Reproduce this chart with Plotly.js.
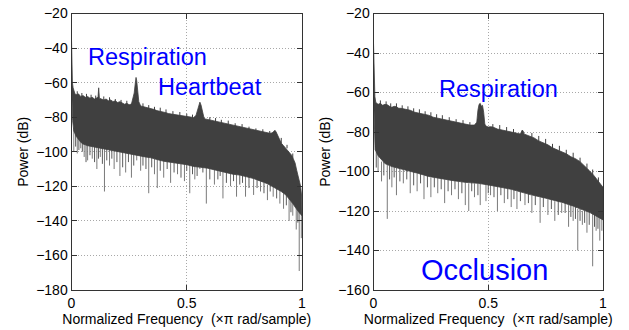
<!DOCTYPE html>
<html>
<head>
<meta charset="utf-8">
<script src="https://cdn.plot.ly/plotly-3.0.1.min.js"></script>
<style>html,body{margin:0;padding:0;background:#fff;}#chart{width:629px;height:330px;}</style>
</head>
<body>
<div id="chart"></div>
<script>
// ---------- Left panel (normal) ----------
var leftUpperF = [0,0.002,0.004,0.007,0.01,0.015,0.02,0.03,0.04,0.05,0.06,0.07,0.08,0.09,0.1,0.11,0.115,0.118,0.121,0.13,0.14,0.15,0.16,0.17,0.18,0.19,0.2,0.21,0.22,0.23,0.24,0.25,0.26,0.265,0.272,0.277,0.28,0.283,0.287,0.292,0.3,0.31,0.32,0.33,0.34,0.35,0.36,0.37,0.38,0.39,0.4,0.41,0.42,0.43,0.44,0.45,0.46,0.47,0.48,0.49,0.5,0.51,0.52,0.53,0.54,0.547,0.552,0.557,0.562,0.568,0.575,0.58,0.59,0.6,0.61,0.62,0.63,0.64,0.65,0.66,0.67,0.68,0.69,0.7,0.71,0.72,0.73,0.74,0.75,0.76,0.77,0.78,0.79,0.8,0.81,0.82,0.83,0.84,0.85,0.86,0.87,0.878,0.883,0.888,0.895,0.904,0.91,0.92,0.93,0.94,0.948,0.955,0.962,0.97,0.977,0.983,0.988,0.994,0.998,1];
var leftUpper = [-35,-52,-60,-63,-65,-66.5,-67,-66.5,-68,-67.5,-68.5,-68,-69,-68.5,-69.5,-69,-68.5,-63,-69,-69.5,-70,-69.5,-70.5,-70,-71,-70.5,-71.5,-71,-72,-72.5,-72,-72.8,-72.4,-70,-66,-60,-57,-59,-64,-71,-73.5,-73.8,-74.2,-74.6,-74.8,-75.4,-75.6,-76.2,-76.4,-76.6,-77.2,-77.4,-77.9,-78.1,-78.3,-78.6,-78.4,-78.9,-79.1,-79.3,-79.5,-79.8,-80,-80.2,-79,-76,-73,-71.3,-73,-77,-80.5,-81,-81.3,-81.8,-82.1,-82.4,-82.9,-83.1,-83.4,-83.8,-84,-84.3,-84.6,-84.9,-85.2,-85.4,-85.6,-85.9,-86.2,-86.5,-86.7,-87,-87.2,-87.5,-87.8,-88.1,-88.4,-88.7,-89,-89.3,-89.1,-88,-87.6,-88.6,-91,-93.4,-95,-96.5,-98,-99.5,-100.5,-102,-104,-106.5,-110.7,-114,-117,-120,-125,-130];
var leftLowerF = [0,0.005,0.01,0.02,0.03,0.04,0.05,0.06,0.07,0.08,0.1,0.12,0.14,0.16,0.18,0.2,0.22,0.24,0.26,0.28,0.3,0.32,0.345,0.37,0.4,0.42,0.45,0.474,0.5,0.53,0.56,0.59,0.614,0.64,0.67,0.7,0.73,0.76,0.79,0.82,0.85,0.87,0.89,0.91,0.93,0.948,0.96,0.97,0.98,0.99,1];
var leftLower = [-60,-82,-88,-91,-93,-94.5,-95.5,-96,-96.5,-97,-97.5,-98,-98.5,-99,-99.5,-100,-100.5,-101,-101.5,-102,-102.5,-103,-103.5,-104.5,-105.5,-106,-106.5,-107,-107.5,-108.5,-109,-109.5,-110.5,-111,-112,-113,-113.5,-114.5,-115.5,-117,-118.5,-120,-121.5,-123,-125,-128,-130,-132,-134,-135.6,-137];
var leftSpikeF    = [0.01,0.025,0.04,0.055,0.07,0.09,0.11,0.125,0.143,0.165,0.185,0.21,0.235,0.26,0.283,0.3,0.335,0.36,0.372,0.4,0.43,0.46,0.49,0.513,0.535,0.557,0.585,0.62,0.657,0.69,0.716,0.755,0.79,0.82,0.85,0.875,0.904,0.92,0.944,0.96,0.975,0.988,0.997];
var leftSpikeBase = [-86,-90,-93,-94,-95,-96,-97,-97,-98,-98,-99,-99,-100,-101,-85,-102,-103,-104,-104,-105,-106,-106,-107,-107,-108,-96,-109,-110,-111,-112,-113,-114,-115,-117,-119,-120,-122,-124,-127,-129,-132,-134,-136];
var leftSpikeTip  = [-100,-101,-98,-103,-105,-104,-110,-103,-123,-108,-110,-114,-112,-115,-105,-111,-124,-113,-121,-115,-118,-113,-117,-124,-116,-110,-130,-119,-127,-120,-126,-126,-125,-123,-128,-126,-130,-133,-140,-137,-145,-169,-150];
var leftMinorF    = [0.018,0.032,0.047,0.063,0.08,0.1,0.117,0.134,0.153,0.175,0.197,0.222,0.247,0.27,0.31,0.323,0.348,0.385,0.415,0.445,0.475,0.5,0.525,0.545,0.57,0.6,0.635,0.645,0.672,0.703,0.73,0.742,0.77,0.805,0.835,0.862,0.89,0.932,0.952,0.982];
var leftMinorBase = [-89,-91,-93,-94,-95,-96,-97,-97,-98,-98,-99,-100,-100,-101,-102,-103,-103,-104,-105,-106,-106,-107,-107,-108,-108,-109,-110,-110,-111,-112,-113,-113,-114,-116,-118,-119,-121,-125,-128,-133];
var leftMinorTip  = [-97,-99,-100,-106,-102,-106,-104,-107,-105,-104,-106,-109,-106,-108,-108,-110,-109,-111,-110,-112,-115,-111,-113,-114,-112,-116,-116,-114,-118,-117,-119,-118,-121,-121,-124,-123,-127,-131,-135,-141];
var leftHairF    = [0.025,0.045,0.065,0.085,0.105,0.14,0.165,0.19,0.215,0.24,0.31,0.335,0.36,0.385,0.41,0.44,0.47,0.5,0.525,0.6,0.625,0.65,0.68,0.71,0.74,0.77,0.8,0.83,0.86,0.91,0.935,0.96];
var leftHairBase = [-68,-69,-69.5,-70,-70.5,-71,-71.5,-72,-72.5,-73,-75,-75.5,-76.5,-77,-78,-79,-79.5,-80.5,-81,-82.5,-83,-84,-85,-86,-87,-88,-89,-90,-90.5,-95,-98,-104];
var leftHairTip  = [-65,-66,-66.5,-67,-67.5,-68,-68.5,-69.5,-70,-70.5,-72,-73,-74,-74.5,-75.5,-76.5,-77,-78,-78.5,-80,-80.5,-81.5,-82,-83.5,-84,-85.5,-86.5,-87,-88,-92,-96,-101];

// ---------- Right panel (occlusion) ----------
var rightUpperF = [0,0.003,0.006,0.01,0.02,0.03,0.04,0.05,0.06,0.07,0.08,0.09,0.1,0.11,0.12,0.14,0.16,0.18,0.2,0.22,0.24,0.26,0.28,0.3,0.32,0.34,0.36,0.38,0.4,0.42,0.44,0.45,0.455,0.46,0.465,0.47,0.475,0.48,0.485,0.49,0.5,0.51,0.52,0.54,0.56,0.58,0.6,0.62,0.64,0.648,0.652,0.656,0.68,0.7,0.72,0.74,0.76,0.78,0.8,0.82,0.84,0.86,0.88,0.9,0.92,0.94,0.96,0.98,1];
var rightUpper = [-35,-55,-62,-65,-66,-65.5,-66.5,-66,-66.2,-67,-67.5,-67,-67.2,-68,-68,-68.5,-69,-70,-70.5,-71,-71.5,-72.5,-73,-73.5,-74,-74.5,-75,-75.5,-76,-76.5,-76.5,-75,-69,-66,-65.5,-67,-66.5,-70,-76,-77,-77.5,-77.3,-77.5,-78.5,-79,-79.5,-80,-80.5,-81,-79,-79.5,-81,-82,-83,-84.5,-85.5,-86.5,-88,-89,-90,-91,-92.5,-93.5,-95,-97,-99.5,-102,-105,-108];
var rightLowerF = [0,0.004,0.007,0.02,0.05,0.08,0.12,0.16,0.196,0.24,0.28,0.34,0.4,0.456,0.5,0.538,0.6,0.683,0.75,0.827,0.88,0.943,0.97,1];
var rightLower = [-60,-80,-89,-92,-96,-97.5,-99,-100,-101,-102.5,-103.5,-104.5,-105.5,-106,-106.8,-107.5,-109,-111.7,-113.5,-115.8,-118,-120.8,-122.5,-124.5];
var rightSpikeF    = [0.02,0.035,0.06,0.08,0.1,0.13,0.16,0.19,0.22,0.25,0.28,0.31,0.34,0.37,0.4,0.415,0.44,0.465,0.49,0.51,0.54,0.57,0.6,0.625,0.66,0.69,0.726,0.76,0.79,0.82,0.85,0.87,0.89,0.91,0.93,0.955,0.97,0.986,0.995];
var rightSpikeBase = [-90,-95,-96,-97,-98,-99,-100,-101,-102,-103,-103,-104,-104,-105,-105,-106,-106,-90,-106,-106,-107,-108,-109,-110,-111,-112,-113,-114,-115,-116,-117,-118,-119,-120,-120,-121,-122,-123,-124];
var rightSpikeTip  = [-100,-105,-124,-108,-112,-106,-111,-110,-114,-113,-111,-116,-112,-114,-117,-120,-113,-117,-115,-112,-120,-116,-118,-119,-117,-121,-126,-122,-125,-121,-128,-125,-140,-127,-131,-148,-130,-135,-130];
var rightMinorF    = [0.012,0.045,0.07,0.09,0.115,0.145,0.175,0.205,0.235,0.265,0.295,0.325,0.355,0.385,0.428,0.455,0.5,0.525,0.555,0.585,0.612,0.64,0.675,0.705,0.74,0.775,0.805,0.835,0.86,0.88,0.9,0.92,0.94,0.963,0.978];
var rightMinorBase = [-90,-95,-97,-97,-98,-99,-100,-101,-102,-103,-103,-104,-104,-105,-105,-106,-106,-107,-107,-108,-109,-110,-111,-112,-113,-114,-115,-116,-117,-118,-119,-120,-120,-121,-122];
var rightMinorTip  = [-98,-102,-104,-103,-105,-104,-107,-106,-108,-108,-109,-110,-109,-111,-110,-112,-111,-113,-112,-114,-114,-115,-116,-117,-118,-119,-122,-121,-123,-124,-125,-126,-127,-128,-129];
var rightHairF    = [0.03,0.055,0.075,0.1,0.125,0.15,0.175,0.2,0.225,0.25,0.275,0.3,0.33,0.36,0.39,0.42,0.52,0.55,0.58,0.61,0.69,0.72,0.75,0.78,0.81,0.84,0.87,0.9,0.93,0.955,0.98];
var rightHairBase = [-67,-67.5,-68,-68.5,-69,-70,-70.5,-71.5,-72,-72.5,-73.5,-74.5,-75,-76,-76.5,-77.5,-78.5,-79,-80.5,-81,-83,-85,-86.5,-88.5,-89.5,-91.5,-93.5,-95.5,-98.5,-102,-105.5];
var rightHairTip  = [-64,-64.5,-65.5,-65.5,-66.5,-67,-68,-68.5,-69.5,-70,-71,-71.5,-72.5,-73.5,-74,-75,-76,-76.5,-77.5,-78.5,-80.5,-82,-83.5,-86,-87,-89,-90.5,-93,-96,-99,-103];

var xTickVals = [0, 0.5, 1];
var xTickText = ['0', '0.5', '1'];
var xTitle = 'Normalized Frequency\u00a0\u00a0(\u00d7\u03c0 rad/sample)';
var yTitle = 'Power (dB)';

var DARK = '#404040';
var LIGHT = '#7a7a7a';

function band(uf, uy, lf, ly, xa, ya) {
  var x = uf.slice(), y = uy.slice();
  for (var i = lf.length - 1; i >= 0; i--) { x.push(lf[i]); y.push(ly[i]); }
  return {x: x, y: y, type: 'scatter', mode: 'lines', fill: 'toself', fillcolor: DARK,
          line: {color: DARK, width: 0.8}, xaxis: xa, yaxis: ya, hoverinfo: 'skip'};
}
function spikes(f, base, tip, xa, ya, color, w) {
  var x = [], y = [];
  for (var i = 0; i < f.length; i++) { x.push(f[i], f[i], null); y.push(base[i], tip[i], null); }
  return {x: x, y: y, type: 'scatter', mode: 'lines', line: {color: color, width: w},
          xaxis: xa, yaxis: ya, hoverinfo: 'skip', connectgaps: false};
}

var data = [
  spikes(leftSpikeF, leftSpikeBase, leftSpikeTip, 'x', 'y', LIGHT, 1),
  spikes(leftMinorF, leftMinorBase, leftMinorTip, 'x', 'y', '#5a5a5a', 1),
  band(leftUpperF, leftUpper, leftLowerF, leftLower, 'x', 'y'),
  spikes(leftHairF, leftHairBase, leftHairTip, 'x', 'y', DARK, 1),
  spikes(rightSpikeF, rightSpikeBase, rightSpikeTip, 'x2', 'y2', LIGHT, 1),
  spikes(rightMinorF, rightMinorBase, rightMinorTip, 'x2', 'y2', '#5a5a5a', 1),
  band(rightUpperF, rightUpper, rightLowerF, rightLower, 'x2', 'y2'),
  spikes(rightHairF, rightHairBase, rightHairTip, 'x2', 'y2', DARK, 1)
];

var FONT = 'Liberation Sans, Arial, Helvetica, sans-serif';
function xax(dom, anchor) {
  return {domain: dom, anchor: anchor, range: [0, 1], tickvals: xTickVals, ticktext: xTickText,
    ticks: 'inside', ticklen: 5, tickcolor: '#333', showline: true, linecolor: '#333', linewidth: 1,
    mirror: 'ticks', showgrid: true, gridcolor: '#a8a8a8', griddash: '1px,2px', gridwidth: 1, zeroline: false,
    tickfont: {family: FONT, size: 14, color: '#000'},
    title: {text: xTitle, font: {family: FONT, size: 14, color: '#000'}, standoff: 4}};
}
function yax(dom, anchor, range) {
  return {domain: dom, anchor: anchor, range: range, dtick: 20, tick0: -180,
    ticks: 'inside', ticklen: 5, tickcolor: '#333', showline: true, linecolor: '#333', linewidth: 1,
    mirror: 'ticks', showgrid: true, gridcolor: '#a8a8a8', griddash: '1px,2px', gridwidth: 1, zeroline: false,
    tickfont: {family: FONT, size: 14, color: '#000'},
    title: {text: yTitle, font: {family: FONT, size: 14, color: '#000'}, standoff: 4}};
}

var yDom = [1 - 290 / 330, 1 - 13.5 / 330];
var layout = {
  width: 629, height: 330,
  margin: {l: 0, r: 0, t: 0, b: 0},
  paper_bgcolor: '#fff', plot_bgcolor: '#fff',
  showlegend: false,
  xaxis: xax([71.5 / 629, 302 / 629], 'y'),
  yaxis: yax(yDom, 'x', [-180, -20]),
  xaxis2: xax([373.5 / 629, 603 / 629], 'y2'),
  yaxis2: yax(yDom, 'x2', [-160, -20]),
  annotations: [
    {xref: 'x', yref: 'y', x: 0.328, y: -45.4, text: 'Respiration', showarrow: false,
     font: {family: FONT, size: 23.5, color: '#0000ff'}},
    {xref: 'x', yref: 'y', x: 0.6, y: -62.7, text: 'Heartbeat', showarrow: false,
     font: {family: FONT, size: 23.5, color: '#0000ff'}},
    {xref: 'x2', yref: 'y2', x: 0.5457, y: -58.4, text: 'Respiration', showarrow: false,
     font: {family: FONT, size: 23.5, color: '#0000ff'}},
    {xref: 'x2', yref: 'y2', x: 0.4848, y: -149.9, text: 'Occlusion', showarrow: false,
     font: {family: FONT, size: 29, color: '#0000ff'}}
  ]
};

Plotly.newPlot('chart', data, layout, {displayModeBar: false, staticPlot: true});
</script>
</body>
</html>
